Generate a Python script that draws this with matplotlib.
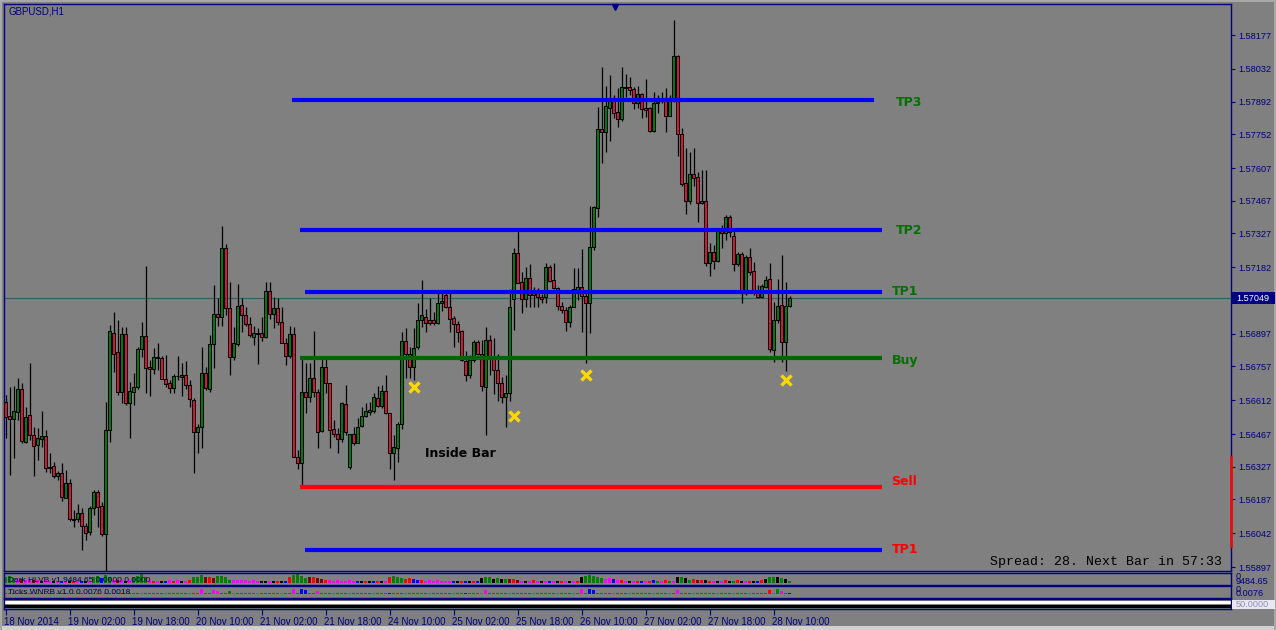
import matplotlib
matplotlib.use("Agg")
import matplotlib.pyplot as plt
import matplotlib.transforms as mtransforms
from matplotlib.patches import Rectangle

# ---------------- data (GBPUSD H1) ----------------
opens = [
 1.56605,1.56544,1.56531,1.56562,1.56658,1.56434,1.56547,1.56461,1.56422,1.56444,
 1.56458,1.56322,1.56328,1.56287,1.56298,1.56194,1.56255,1.56104,1.56101,1.56127,
 1.56072,1.56045,1.56148,1.56218,1.56158,1.56037,1.56484,1.56902,1.56818,1.56648,
 1.56895,1.56602,1.56648,1.56670,1.56830,1.56887,1.56755,1.56744,1.56798,1.56794,
 1.56702,1.56684,1.56665,1.56714,1.56712,1.56720,1.56677,1.56612,1.56477,1.56495,
 1.56727,1.56662,1.56851,1.56980,1.56970,1.57263,1.57005,1.56795,1.56852,1.57020,
 1.56977,1.56938,1.56881,1.56902,1.56902,1.56881,1.57080,1.56981,1.57005,1.56948,
 1.56858,1.56802,1.56894,1.56369,1.56341,1.56645,1.56624,1.56705,1.56645,1.56481,
 1.56755,1.56684,1.56487,1.56465,1.56444,1.56594,1.56327,1.56465,1.56429,1.56501,
 1.56544,1.56560,1.56567,1.56620,1.56588,1.56652,1.56555,1.56387,1.56408,1.56508,
 1.56865,1.56812,1.56755,1.56838,1.56955,1.56970,1.56955,1.56955,1.56941,1.57027,
 1.57061,1.57012,1.56965,1.56937,1.56908,1.56780,1.56722,1.56784,1.56862,1.56812,
 1.56670,1.56870,1.56794,1.56741,1.56684,1.56624,1.56641,1.57044,1.57241,1.57120,
 1.57044,1.57134,1.57063,1.57080,1.57053,1.57053,1.57181,1.57127,1.57094,1.57015,
 1.56998,1.56948,1.57012,1.57084,1.57098,1.57058,1.57027,1.57270,1.57434,1.57773,
 1.57763,1.57863,1.57909,1.57846,1.57816,1.57956,1.57954,1.57944,1.57884,1.57923,
 1.57863,1.57863,1.57766,1.57884,1.57894,1.57906,1.57831,1.57903,1.58087,1.57751,
 1.57541,1.57467,1.57580,1.57567,1.57456,1.57466,1.57201,1.57246,1.57208,1.57344,
 1.57327,1.57398,1.57316,1.57194,1.57240,1.57070,1.57227,1.57166,1.57070,1.57056,
 1.57098,1.57130,1.56827,1.56955,1.57020,1.56863,1.57016]
highs = [
 1.56634,1.56670,1.56674,1.56705,1.56684,1.56584,1.56770,1.56498,1.56494,1.56565,
 1.56484,1.56384,1.56348,1.56309,1.56341,1.56312,1.56274,1.56141,1.56169,1.56148,
 1.56087,1.56159,1.56227,1.56227,1.56177,1.56605,1.56934,1.56990,1.56955,1.56927,
 1.56927,1.56691,1.56727,1.56841,1.56948,1.57187,1.56784,1.56834,1.56858,1.56801,
 1.56805,1.56698,1.56724,1.56801,1.56770,1.56780,1.56698,1.56620,1.56510,1.56841,
 1.56755,1.56891,1.57105,1.57048,1.57360,1.57281,1.57120,1.56927,1.57112,1.57048,
 1.57012,1.56970,1.56930,1.56920,1.56970,1.57120,1.57120,1.57055,1.57052,1.57010,
 1.56877,1.56930,1.56927,1.56398,1.56791,1.56770,1.56770,1.56908,1.56658,1.56798,
 1.56798,1.56687,1.56527,1.56491,1.56605,1.56677,1.56469,1.56498,1.56534,1.56584,
 1.56601,1.56605,1.56641,1.56674,1.56677,1.56720,1.56558,1.56462,1.56520,1.56905,
 1.56920,1.56841,1.56920,1.57027,1.57127,1.57001,1.57048,1.56991,1.57070,1.57070,
 1.57070,1.57070,1.56972,1.56952,1.56912,1.56822,1.56805,1.56870,1.56870,1.56870,
 1.56927,1.56891,1.56877,1.56812,1.56712,1.56720,1.57087,1.57263,1.57341,1.57163,
 1.57184,1.57196,1.57098,1.57091,1.57065,1.57198,1.57191,1.57198,1.57098,1.57034,
 1.57012,1.57020,1.57177,1.57177,1.57258,1.57084,1.57444,1.57444,1.57867,1.58041,
 1.57959,1.58006,1.57920,1.57952,1.58039,1.58009,1.57999,1.57956,1.57960,1.57927,
 1.57987,1.57870,1.57934,1.57920,1.57934,1.57952,1.57920,1.58242,1.58092,1.57777,
 1.57694,1.57674,1.57691,1.57591,1.57599,1.57599,1.57287,1.57277,1.57348,1.57363,
 1.57406,1.57406,1.57337,1.57246,1.57246,1.57234,1.57266,1.57206,1.57106,1.57108,
 1.57144,1.57198,1.57034,1.57130,1.57234,1.57120,1.57060]
lows = [
 1.56448,1.56291,1.56365,1.56527,1.56429,1.56427,1.56441,1.56287,1.56355,1.56412,
 1.56304,1.56301,1.56279,1.56272,1.56179,1.56191,1.56094,1.56067,1.56089,1.55969,
 1.56012,1.56034,1.56119,1.56069,1.56029,1.55881,1.56434,1.56734,1.56634,1.56598,
 1.56591,1.56448,1.56591,1.56662,1.56798,1.56641,1.56630,1.56724,1.56741,1.56701,
 1.56670,1.56641,1.56644,1.56698,1.56630,1.56662,1.56584,1.56302,1.56384,1.56408,
 1.56655,1.56648,1.56748,1.56930,1.56930,1.56977,1.56720,1.56784,1.56844,1.56905,
 1.56930,1.56884,1.56848,1.56767,1.56867,1.56877,1.56962,1.56920,1.56934,1.56855,
 1.56762,1.56791,1.56367,1.56319,1.56241,1.56555,1.56605,1.56627,1.56408,1.56477,
 1.56641,1.56408,1.56455,1.56384,1.56434,1.56462,1.56315,1.56422,1.56427,1.56498,
 1.56541,1.56548,1.56555,1.56584,1.56577,1.56552,1.56315,1.56269,1.56348,1.56487,
 1.56705,1.56705,1.56698,1.56830,1.56927,1.56905,1.56934,1.56934,1.56938,1.56995,
 1.57005,1.56905,1.56838,1.56862,1.56781,1.56695,1.56705,1.56777,1.56805,1.56652,
 1.56462,1.56720,1.56637,1.56610,1.56598,1.56498,1.56610,1.56912,1.57113,1.56984,
 1.57012,1.57010,1.57012,1.57012,1.57030,1.57027,1.57120,1.57087,1.56998,1.56984,
 1.56910,1.56927,1.57010,1.57041,1.56905,1.56773,1.56901,1.57256,1.57398,1.57627,
 1.57674,1.57723,1.57820,1.57784,1.57809,1.57913,1.57920,1.57860,1.57863,1.57823,
 1.57827,1.57760,1.57760,1.57841,1.57884,1.57763,1.57830,1.57892,1.57660,1.57531,
 1.57409,1.57451,1.57531,1.57377,1.57451,1.57188,1.57146,1.57174,1.57206,1.57263,
 1.57298,1.57313,1.57165,1.57188,1.57027,1.57063,1.57148,1.57063,1.57051,1.57051,
 1.57094,1.56820,1.56777,1.56941,1.56777,1.56737,1.57010]
closes = [
 1.56541,1.56532,1.56565,1.56658,1.56437,1.56541,1.56461,1.56417,1.56448,1.56458,
 1.56322,1.56327,1.56288,1.56298,1.56198,1.56255,1.56101,1.56098,1.56127,1.56072,
 1.56044,1.56148,1.56218,1.56155,1.56037,1.56484,1.56908,1.56812,1.56648,1.56895,
 1.56601,1.56650,1.56667,1.56831,1.56887,1.56752,1.56744,1.56798,1.56792,1.56704,
 1.56681,1.56665,1.56715,1.56717,1.56722,1.56675,1.56615,1.56477,1.56495,1.56727,
 1.56665,1.56851,1.56980,1.56970,1.57263,1.57005,1.56795,1.56855,1.57015,1.56977,
 1.56938,1.56892,1.56898,1.56894,1.56881,1.57080,1.56981,1.57005,1.56948,1.56858,
 1.56802,1.56894,1.56369,1.56341,1.56645,1.56624,1.56705,1.56645,1.56477,1.56755,
 1.56684,1.56484,1.56465,1.56444,1.56598,1.56475,1.56465,1.56427,1.56498,1.56544,
 1.56565,1.56570,1.56624,1.56588,1.56652,1.56555,1.56387,1.56412,1.56512,1.56865,
 1.56812,1.56755,1.56834,1.56955,1.56977,1.56941,1.56941,1.56941,1.57027,1.57037,
 1.57012,1.56962,1.56937,1.56905,1.56784,1.56722,1.56784,1.56860,1.56812,1.56672,
 1.56870,1.56794,1.56741,1.56684,1.56624,1.56644,1.57010,1.57241,1.57115,1.57044,
 1.57134,1.57063,1.57074,1.57055,1.57047,1.57181,1.57124,1.57094,1.57015,1.56998,
 1.56948,1.57012,1.57087,1.57098,1.57058,1.57027,1.57270,1.57438,1.57773,1.57763,
 1.57874,1.57909,1.57841,1.57817,1.57956,1.57952,1.57942,1.57884,1.57923,1.57859,
 1.57857,1.57766,1.57884,1.57889,1.57906,1.57831,1.57906,1.58087,1.57751,1.57537,
 1.57467,1.57580,1.57566,1.57456,1.57466,1.57201,1.57246,1.57210,1.57344,1.57327,
 1.57398,1.57334,1.57194,1.57240,1.57073,1.57227,1.57163,1.57070,1.57056,1.57101,
 1.57127,1.56830,1.56955,1.57016,1.56863,1.57016,1.57049]

time_labels = ["18 Nov 2014", "19 Nov 02:00", "19 Nov 18:00", "20 Nov 10:00",
               "21 Nov 02:00", "21 Nov 18:00", "24 Nov 10:00", "25 Nov 02:00",
               "25 Nov 18:00", "26 Nov 10:00", "27 Nov 02:00", "27 Nov 18:00",
               "28 Nov 10:00"]
time_label_bars = [0, 16, 32, 48, 64, 80, 96, 112, 128, 144, 160, 176, 192]

price_ticks = [1.58177, 1.58032, 1.57892, 1.57752, 1.57607, 1.57467, 1.57327,
               1.57182, 1.56897, 1.56757, 1.56612, 1.56467, 1.56327, 1.56187,
               1.56042, 1.55897]
current_price = 1.57049

level_names = ["TP3", "TP2", "TP1", "Buy", "Sell", "TP1"]
level_prices = [1.57899, 1.57341, 1.57074, 1.56791, 1.56241, 1.55970]
level_start_bar = [71.6, 73.6, 74.9, 73.6, 73.6, 74.9]
level_end_bar = [217.0, 219.0, 219.0, 219.0, 219.0, 219.0]
level_kind = ["tp", "tp", "tp", "buy", "sell", "sl"]

signal_bars = [102, 127, 145, 195]
signal_prices = [1.56668, 1.56544, 1.56720, 1.56698]

note_text = "Inside Bar"
note_bar, note_price = 104.8, 1.56385

spread_band = [1.55987, 1.56368]

# indicator window 1: coloured volume histogram (relative height, colour code)
vol1 = [
 .50,.60,.45,.30,.35,.30,.25,.30,.25,.20, .25,.20,.20,.20,.15,.20,.15,.20,.20,.15,
 .20,.20,.50,.60,.45,.70,.50,.30,.30,.25, .20,.25,.55,.65,.80,.50,.25,.20,.20,.15,
 .15,.25,.20,.25,.20,.20,.25,.50,.55,.70, .55,.50,.45,.60,.65,.55,.30,.30,.25,.30,
 .25,.20,.25,.20,.20,.20,.15,.20,.20,.15, .20,.55,.70,.80,.60,.45,.50,.50,.45,.40,
 .30,.25,.20,.25,.20,.20,.25,.15,.20,.15, .20,.15,.20,.15,.20,.20,.55,.60,.50,.45,
 .40,.45,.40,.30,.25,.20,.25,.20,.25,.20, .20,.20,.15,.20,.15,.20,.20,.15,.20,.45,
 .50,.50,.40,.45,.40,.40,.35,.35,.25,.20, .20,.20,.25,.20,.20,.15,.20,.20,.15,.20,
 .20,.20,.20,.20,.55,.65,.70,.60,.55,.45, .40,.45,.35,.30,.25,.20,.20,.20,.15,.20,
 .20,.20,.25,.20,.20,.25,.20,.20,.50,.55, .45,.30,.35,.30,.30,.25,.20,.20,.20,.20,
 .25,.20,.20,.25,.20,.20,.20,.20,.20,.25, .40,.50,.55,.50,.45,.40,.15]
vol1_codes = ("gggmomm" "omkmmk" "mbmkrmbkm" "ggbgg" "momkm" "gggg" "mrmkbmrmkmr"
              "gggorogggg" "mmmmmmm" "kkmkrkbr" "gggg" "oroorm" "mmmmmm" "bkrkbrkmr"
              "gggr" "rbbr" "mmmmmmm" "bkrbkrbk" "ggkgkg" "oro" "mkmrmkmbmkrmkmrk"
              "ggggg" "mmbmr" "mkmrb" "mrbgmrgmk" "gkg" "rorkrm" "kmrkgrkmrkbrk"
              "ggkgkg" "m")

# indicator window 2: small tick histogram
vol2 = [
 .12,.12,.12,.12,.12,.12,.12,.12,.12,.12, .12,.12,.12,.12,.12,.12,.12,.12,.12,.12,
 .12,.12,.12,.12,.12,.12,.12,.12,.12,.12, .12,.12,.12,.12,.12,.12,.12,.12,.12,.12,
 .12,.12,.12,.12,.12,.12,.12,.12,.12,.40, .12,.12,.35,.30,.12,.12,.30,.12,.12,.12,
 .12,.12,.12,.12,.12,.12,.12,.12,.12,.12, .12,.12,.45,.12,.40,.35,.12,.12,.30,.12,
 .12,.12,.12,.12,.12,.12,.12,.12,.12,.12, .12,.12,.12,.12,.12,.12,.12,.12,.12,.12,
 .12,.12,.12,.12,.12,.12,.12,.12,.12,.12, .12,.12,.12,.12,.12,.12,.12,.12,.12,.12,
 .35,.12,.12,.12,.12,.12,.12,.12,.12,.12, .12,.12,.12,.12,.12,.12,.12,.12,.12,.12,
 .12,.12,.12,.12,.40,.12,.45,.35,.12,.12, .12,.12,.12,.12,.12,.12,.12,.12,.12,.12,
 .12,.12,.12,.12,.12,.12,.12,.12,.35,.12, .12,.12,.12,.12,.12,.12,.12,.12,.12,.12,
 .12,.12,.12,.12,.12,.12,.12,.12,.12,.12, .12,.35,.12,.40,.30,.12,.12]
vol2_codes = ("grgmgrgmgr" "grmgrgmgrg" "mgrgmgrgrg" "mgrgmgrgrg" "mgrgrgmgrm"
              "grmmgrgmgr" "grgmgrgrgm" "grmgbbgrmg" "rgmgrgmgrg" "rgmgrgbgrg"
              "mgrgrgmgrg" "rgmgrbgrgm" "mgrgrgmgrg" "rgmgrgrgmg" "rgmgmgbbgr"
              "grmgrgmgrg" "rgmgrgmgmg" "rgmgrgrgmg" "rgmgrgmgrg" "grmgmgbmgr" "mbmbm" "rg")

sub1_labels = ["0", "9484.65"]
sub2_labels = ["0", "0.0076"]
sub3_label = "50.0000"
sub1_title = "Dark HLVB v1 9484.65 0.0000 0.0000"
sub2_title = "Ticks WNRB v1.0 0.0076 0.0018"

assert len(opens) == len(highs) == len(lows) == len(closes) == 197
n = len(opens)
vol1_codes = (vol1_codes + "m" * n)[:n]
vol2_codes = (vol2_codes + "g" * n)[:n]

# ---------------- styling ----------------
W, H = 1276, 630
BG = "#808080"
NAVY = "#000080"
BULL = "#008000"
BEAR = "#DC143C"
AXFONT = "Liberation Sans"
code_color = {"g": "#008000", "m": "#FF00FF", "r": "#FF0000", "k": "#000000",
              "b": "#0000FF", "o": "#800000"}
line_color = {"tp": "#0000FF", "buy": "#006400", "sell": "#FF0000", "sl": "#0000FF"}
text_color = {"tp": "#007000", "buy": "#007000", "sell": "#FF0000", "sl": "#FF0000"}
text_dx = [5.5, 3.5, 2.5, 2.5, 2.5, 2.5]
text_dy_px = [-3, 0, 1, -2, 5, 0]

plt.rcParams["font.family"] = ["DejaVu Sans"]
fig = plt.figure(figsize=(W / 100, H / 100), dpi=100, facecolor=BG)


def frac(x0, y0, x1, y1):
    return [x0 / W, 1 - y1 / H, (x1 - x0) / W, (y1 - y0) / H]


# outer light frame
fig.add_artist(Rectangle((0, 0), 1, 4 / H, transform=fig.transFigure,
                         facecolor="#d0d0d0", edgecolor="none", zorder=0))
for r in [(0, 1 - 2 / H, 1, 2 / H), (0, 0, 2 / W, 1), (1 - 2 / W, 0, 2 / W, 1)]:
    fig.add_artist(Rectangle(r[:2], r[2], r[3], transform=fig.transFigure,
                             facecolor="#a8a8a8", edgecolor="none", zorder=0))

XMIN, XMAX = -0.375, 306.375
ax = fig.add_axes(frac(4, 4, 1231, 571))
ax.set_facecolor(BG)
ax.set_xlim(XMIN, XMAX)
ax.set_ylim(1.55880, 1.58310)
for s in ax.spines.values():
    s.set_color(NAVY)
    s.set_linewidth(1.0)

# candles
idx = list(range(n))
ax.vlines(idx, lows, highs, colors="black", linewidth=0.9, zorder=3)
body_bottom = [min(o, c) for o, c in zip(opens, closes)]
body_height = [max(abs(c - o), 0.000004) for o, c in zip(opens, closes)]
body_color = [BULL if c >= o else BEAR for o, c in zip(opens, closes)]
ax.bar(idx, body_height, bottom=body_bottom, width=0.72, color=body_color,
       edgecolor="black", linewidth=0.75, zorder=4)

# current price line
ax.axhline(current_price, color="#2F5F5F", linewidth=0.8, zorder=2)

# levels
for name, p, x0, x1, k, dx, dy in zip(level_names, level_prices, level_start_bar,
                                      level_end_bar, level_kind, text_dx, text_dy_px):
    ax.hlines(p, x0, x1, colors=line_color[k], linewidth=3.0, zorder=5)
    ax.annotate(name, (x1 + dx, p), xytext=(0, dy * 0.72), textcoords="offset points",
                ha="left", va="center", color=text_color[k], fontsize=9,
                fontweight="bold", zorder=6)

# signal crosses
ax.plot(signal_bars, signal_prices, linestyle="none", marker="x", markersize=7,
        markeredgewidth=2.4, color="#FFD700", zorder=7)

ax.text(note_bar, note_price, note_text, ha="left", va="center", fontsize=9,
        fontweight="bold", color="black", zorder=6)

# y axis on the right
ax.yaxis.tick_right()
ax.set_yticks(price_ticks)
ax.set_yticklabels([f"{t:.5f}" for t in price_ticks])
ax.tick_params(axis="y", colors=NAVY, labelcolor=NAVY, length=3, width=0.8,
               pad=2, labelsize=6.6)
for lab in ax.get_yticklabels():
    lab.set_fontfamily(AXFONT)
ax.set_xticks([])

blend = mtransforms.blended_transform_factory(ax.transAxes, ax.transData)
ax.plot([1.0, 1.0], spread_band, transform=blend, color="#FF0000", linewidth=1.8,
        clip_on=False, zorder=8)
ax.add_patch(Rectangle((1.0006, current_price - 0.000257), 0.0352, 0.000514,
                       transform=blend, facecolor=NAVY, edgecolor="none",
                       clip_on=False, zorder=9))
ax.text(1.0045, current_price, f"{current_price:.5f}", transform=blend,
        ha="left", va="center", color="white", fontsize=6.6, family=AXFONT,
        zorder=10, clip_on=False)

ax.plot([0.498], [0.995], transform=ax.transAxes, marker="v", markersize=5,
        color=NAVY, clip_on=False, zorder=9)

ax.text(0.004, 0.986, "GBPUSD,H1", transform=ax.transAxes, ha="left", va="center",
        fontsize=7, family=AXFONT, color=NAVY)
fig.text(1222 / W, 1 - 562 / H, "Spread: 28. Next Bar in 57:33", ha="right",
         va="center", fontsize=9.5, family="Liberation Mono", color="black")

# ---------------- indicator sub windows ----------------
sub_boxes = [(573, 584.5), (586, 597.5), (599, 609)]
subs = []
for (y0, y1) in sub_boxes:
    a = fig.add_axes(frac(4, y0, 1231, y1))
    a.set_facecolor(BG)
    a.set_xlim(XMIN, XMAX)
    a.set_ylim(0, 1)
    a.set_yticks([])
    a.set_xticks([])
    for s in a.spines.values():
        s.set_color(NAVY)
        s.set_linewidth(1.0)
    subs.append(a)

subs[0].bar(idx, vol1, bottom=0.12, width=0.75,
            color=[code_color[c] for c in vol1_codes], linewidth=0)
subs[0].text(0.003, 0.35, sub1_title, transform=subs[0].transAxes, fontsize=6,
             family=AXFONT, color="#000050", va="center", ha="left")
subs[1].bar(idx, vol2, bottom=0.3, width=0.75,
            color=[code_color[c] for c in vol2_codes], linewidth=0)
subs[1].text(0.003, 0.45, sub2_title, transform=subs[1].transAxes, fontsize=6,
             family=AXFONT, color="#000050", va="center", ha="left")

subs[2].axhline(0.72, color="white", linewidth=2.2)
subs[2].axhline(0.28, color="black", linewidth=2.2)

for (t, y) in zip(sub1_labels, [576.5, 581.5]):
    fig.text(1236 / W, 1 - y / H, t, ha="left", va="center", fontsize=6.6,
             family=AXFONT, color=NAVY)
for (t, y) in zip(sub2_labels, [589.5, 594.0]):
    fig.text(1236 / W, 1 - y / H, t, ha="left", va="center", fontsize=6.6,
             family=AXFONT, color=NAVY)
fig.add_artist(Rectangle((1232 / W, 1 - 609 / H), 43 / W, 9 / H, transform=fig.transFigure,
                         facecolor="#e8e8f4", edgecolor="none", zorder=3))
fig.text(1236 / W, 1 - 604.5 / H, sub3_label, ha="left", va="center", fontsize=6.6,
         family=AXFONT, color="#9090a8", zorder=4)

a3 = subs[-1]
a3.set_xticks(time_label_bars)
a3.set_xticklabels(time_labels)
a3.tick_params(axis="x", colors=NAVY, labelcolor=NAVY, length=4, width=0.8,
               pad=1.5, labelsize=7)
off = mtransforms.ScaledTranslation(-1 / 100, 0, fig.dpi_scale_trans)
for lab in a3.get_xticklabels():
    lab.set_horizontalalignment("left")
    lab.set_fontfamily(AXFONT)
    lab.set_transform(lab.get_transform() + off)

fig.savefig("out.png", dpi=100, facecolor=BG)
